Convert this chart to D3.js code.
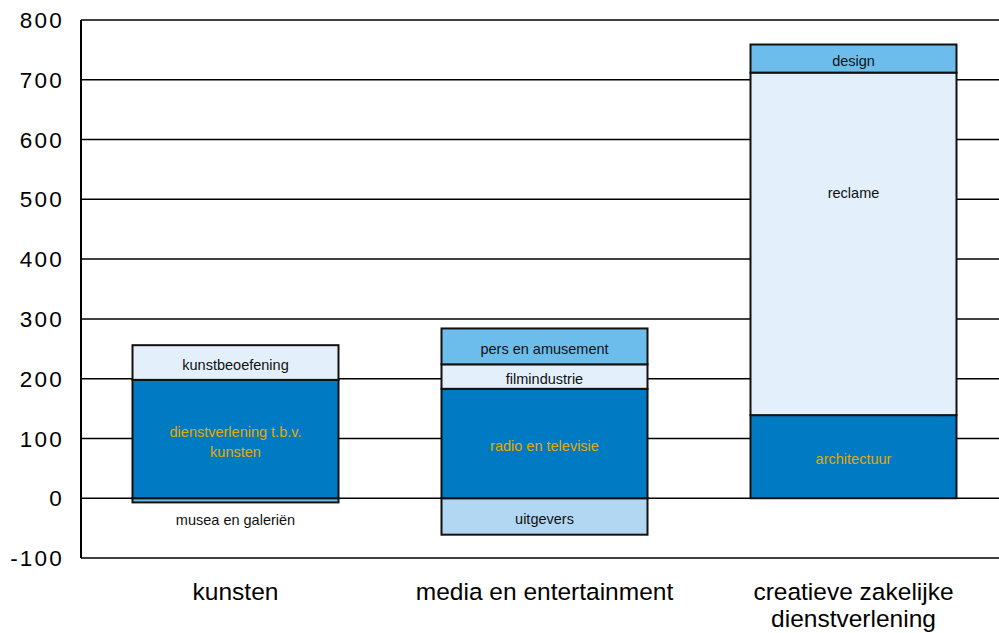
<!DOCTYPE html>
<html><head><meta charset="utf-8">
<script src="https://cdn.jsdelivr.net/npm/d3@7"></script>
<style>body{margin:0;background:#fff}svg{display:block}text{font-family:"Liberation Sans",Arial,sans-serif}</style>
</head><body>
<svg id="c" width="999" height="633"></svg>
<script>
const categories = ["kunsten", "media en entertainment", "creatieve zakelijke dienstverlening"];
const categoryLines = [["kunsten"], ["media en entertainment"], ["creatieve zakelijke", "dienstverlening"]];
const segCategory = [0, 0, 0, 1, 1, 1, 1, 2, 2, 2];
const segName = ["musea en galeriën", "dienstverlening t.b.v. kunsten", "kunstbeoefening",
  "uitgevers", "radio en televisie", "filmindustrie", "pers en amusement",
  "architectuur", "reclame", "design"];
const segValue = [-7, 198, 58, -61, 183, 41, 60, 139, 573, 47];
const segTone = ["mid", "dark", "pale", "light", "dark", "pale", "mid", "dark", "pale", "mid"];
// value at which a label sits when it is not centred in its segment (null = centred)
const segLabelAt = [null, null, null, null, null, null, null, null, 510, null];
const yTicks = [-100, 0, 100, 200, 300, 400, 500, 600, 700, 800];

const toneFill = {dark: "#007BC3", pale: "#E3EFFA", mid: "#6DBDEC", light: "#B2D7F2"};
const toneText = {dark: "#E5A800", pale: "#111", mid: "#111", light: "#111"};

const svg = d3.select("#c");
const mLeft = 81, mTop = 20, mBottom = 558, step = 309;
const x = d3.scaleBand().domain(categories).range([mLeft, mLeft + step * 3]).paddingInner(1/3).paddingOuter(1/6);
const y = d3.scaleLinear().domain([-100, 800]).range([mBottom, mTop]);

// grid
svg.append("g").selectAll("line").data(yTicks).join("line")
  .attr("x1", mLeft).attr("x2", 999).attr("y1", d => y(d)).attr("y2", d => y(d))
  .attr("stroke", "#000").attr("stroke-width", 1.5);
svg.append("line").attr("x1", mLeft).attr("x2", mLeft).attr("y1", mTop).attr("y2", mBottom).attr("stroke", "#000").attr("stroke-width", 2);

// tick labels
svg.append("g").selectAll("text").data(yTicks).join("text")
  .attr("x", 64).attr("y", d => y(d)).attr("dy", "0.36em").attr("text-anchor", "end")
  .attr("font-size", 22.5).attr("letter-spacing", 2.2).text(d => d);

// stacking
const segs = segValue.map((v, i) => ({i, v, c: segCategory[i]}));
const posAcc = {}, negAcc = {};
segs.forEach(s => {
  if (s.v >= 0) { const b = posAcc[s.c] || 0; s.y0 = b; s.y1 = b + s.v; posAcc[s.c] = s.y1; }
  else { const b = negAcc[s.c] || 0; s.y0 = b + s.v; s.y1 = b; negAcc[s.c] = s.y0; }
});

const g = svg.append("g");
g.selectAll("rect").data(segs).join("rect")
  .attr("x", d => x(categories[d.c])).attr("width", x.bandwidth())
  .attr("y", d => y(d.y1)).attr("height", d => y(d.y0) - y(d.y1))
  .attr("fill", d => toneFill[segTone[d.i]]).attr("stroke", "#111").attr("stroke-width", 2);

const lbl = svg.append("g");
segs.forEach(s => {
  const cx = x(categories[s.c]) + x.bandwidth() / 2;
  const h = y(s.y0) - y(s.y1);
  const name = segName[s.i];
  let lines = [name];
  if (name === "dienstverlening t.b.v. kunsten") lines = ["dienstverlening t.b.v.", "kunsten"];
  let cy, color;
  if (h < 12) { cy = y(s.y0) + 18; color = "#111"; }
  else {
    cy = segLabelAt[s.i] != null ? y(segLabelAt[s.i]) : (y(s.y0) + y(s.y1)) / 2 + 2.5;
    color = toneText[segTone[s.i]];
  }
  const t = lbl.append("text").attr("x", cx).attr("text-anchor", "middle").attr("font-size", 14.5).attr("fill", color);
  lines.forEach((ln, k) => {
    t.append("tspan").attr("x", cx).attr("y", cy + (k - (lines.length - 1) / 2) * 20).attr("dy", "0.35em").text(ln);
  });
});

// category labels
categories.forEach((c, i) => {
  const cx = x(c) + x.bandwidth() / 2;
  const t = svg.append("text").attr("text-anchor", "middle").attr("font-size", 24.5).attr("fill", "#000");
  categoryLines[i].forEach((ln, k) => {
    t.append("tspan").attr("x", cx).attr("y", 600 + k * 27).text(ln);
  });
});
</script>
</body></html>
